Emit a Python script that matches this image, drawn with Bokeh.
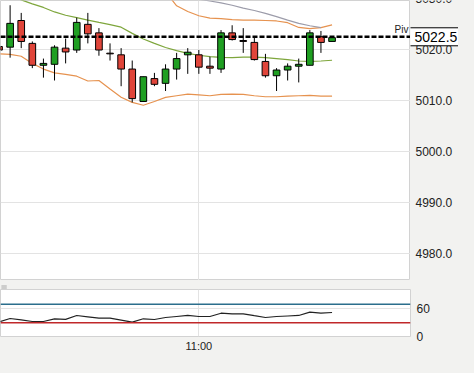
import pandas as pd
from bokeh.plotting import figure
from bokeh.layouts import column, row
from bokeh.models import (ColumnDataSource, FixedTicker, DatetimeTickFormatter,
                          Span, Label, Range1d, GlobalInlineStyleSheet)
from bokeh.core.properties import value
from bokeh.embed import file_html
from bokeh.resources import INLINE

# ---------------- data ----------------
times = pd.date_range("2024-03-14 10:42", periods=31, freq="1min")

opens = [5020.60, 5020.47, 5025.69, 5021.21, 5016.92, 5017.11, 5020.28, 5019.91,
         5024.94, 5023.27, 5019.29, 5018.97, 5016.18, 5009.83, 5014.31, 5013.38,
         5016.18, 5018.97, 5018.97, 5016.74, 5016.18, 5023.27, 5021.77, 5021.40,
         5017.67, 5014.87, 5015.99, 5016.74, 5016.92, 5022.52, 5021.59]
highs = [5021.00, 5028.68, 5027.18, 5021.59, 5018.23, 5020.84, 5022.15, 5026.25,
         5027.18, 5024.20, 5021.21, 5020.28, 5017.85, 5014.68, 5015.43, 5017.11,
         5019.35, 5020.28, 5019.91, 5018.60, 5023.82, 5024.76, 5024.20, 5022.33,
         5019.16, 5016.36, 5017.29, 5018.23, 5023.82, 5023.64, 5022.43]
lows = [5019.50, 5018.41, 5020.28, 5016.36, 5014.50, 5013.94, 5017.29, 5019.35,
        5021.21, 5018.79, 5017.85, 5012.82, 5009.65, 5009.74, 5012.82, 5011.88,
        5014.12, 5015.24, 5015.24, 5015.24, 5015.43, 5021.77, 5019.35, 5017.85,
        5014.50, 5011.88, 5013.94, 5013.56, 5016.92, 5019.35, 5021.59]
closes = [5019.90, 5025.13, 5021.59, 5016.92, 5017.29, 5020.47, 5019.53, 5025.32,
          5023.08, 5019.91, 5019.16, 5016.18, 5010.39, 5014.68, 5013.19, 5016.18,
          5018.23, 5019.48, 5016.55, 5016.36, 5023.27, 5021.96, 5021.59, 5018.04,
          5014.87, 5015.99, 5016.74, 5017.11, 5023.27, 5021.40, 5022.33]

bb_mid = [5031.29, 5030.54, 5029.74, 5028.96, 5028.25, 5027.37, 5026.72, 5026.25,
          5025.78, 5025.32, 5024.89, 5024.38, 5023.17, 5022.07, 5021.21, 5020.41,
          5019.78, 5019.25, 5018.88, 5018.60, 5018.47, 5018.41, 5018.51, 5018.51,
          5018.41, 5018.23, 5018.04, 5017.76, 5017.67, 5017.76, 5017.91]
bb_upper = [5043.42, 5042.01, 5040.79, 5040.63, 5040.32, 5039.31, 5038.29, 5037.72,
            5037.16, 5036.70, 5036.14, 5036.43, 5036.51, 5034.60, 5033.33, 5031.29,
            5028.58, 5027.46, 5026.62, 5026.16, 5026.06, 5025.88, 5025.78, 5025.75,
            5025.69, 5025.60, 5025.26, 5024.33, 5024.10, 5024.29, 5024.85]
bb_lower = [5019.16, 5019.07, 5018.69, 5017.29, 5016.18, 5015.43, 5015.15, 5014.78,
            5013.84, 5013.94, 5012.26, 5010.67, 5009.65, 5009.09, 5009.83, 5010.63,
            5010.95, 5011.27, 5011.14, 5010.95, 5011.23, 5011.27, 5011.23, 5010.95,
            5010.76, 5010.76, 5010.86, 5010.95, 5011.04, 5010.86, 5010.86]

slow_ma_times = times[17:]
slow_ma = [5030.35, 5029.88, 5029.51, 5029.14, 5028.68, 5028.12, 5027.65,
           5027.09, 5026.44, 5025.78, 5025.13, 5024.66, 5024.29]

rsi = [31.5, 39.0, 36.0, 32.5, 32.5, 38.3, 37.0, 45.5, 42.6, 39.6, 39.6, 35.3, 31.0,
       38.3, 36.8, 41.1, 43.3, 45.5, 43.3, 43.3, 50.4, 49.1, 49.1, 45.0, 41.1, 43.3,
       44.4, 45.5, 52.6, 50.4, 51.9]

pivot_level = 5022.5
pivot_name = "Piv"
pivot_box_text = "5022.5"
rsi_high_level = 70
rsi_low_level = 30
price_ticks = [4980, 4990, 5000, 5010, 5020, 5030]
price_tick_labels = ["4980.0", "4990.0", "5000.0", "5010.0", "5020.0", "5030.0"]
rsi_ticks = [0, 60]
time_ticks = ["2024-03-14 11:00"]

# ---------------- styling / layout ----------------
FONT = "Liberation Sans"
BG = "#f2f2f0"
GRID = "#e3e3e3"
UP = "#1f9f22"
DOWN = "#e0453a"
TXT = "#222222"
view_start = pd.Timestamp("2024-03-14 10:42:08")
view_end = pd.Timestamp("2024-03-14 11:19:04")
PLOT_W, AXIS_W = 410, 48
MAIN_H, GAP_H, RSI_H, TIME_H = 280, 9, 47, 21


def ms(ts):
    return pd.Timestamp(ts).value / 1e6


def bare(fig):
    fig.grid.visible = False
    return fig


tick_ms = [ms(t) for t in time_ticks]
x_range = Range1d(ms(view_start), ms(view_end))
price_range = Range1d(4974.76, 5029.61)
rsi_range = Range1d(0, 101.7)

body_top = [max(o, c) for o, c in zip(opens, closes)]
body_bot = [min(o, c) for o, c in zip(opens, closes)]
colors = [UP if c >= o else DOWN for o, c in zip(opens, closes)]
src = ColumnDataSource(dict(t=times, h=highs, l=lows, top=body_top,
                            bot=body_bot, color=colors, mid=bb_mid,
                            up=bb_upper, lo=bb_lower, rsi=rsi))
slow_src = ColumnDataSource(dict(t=slow_ma_times, v=slow_ma))

common = dict(output_backend="svg", toolbar_location=None, min_border=0,
              min_border_left=0, min_border_top=0)

# ---------------- main price panel ----------------
p1 = figure(width=PLOT_W, height=MAIN_H, x_axis_type="datetime",
            x_axis_location=None, y_axis_location=None,
            x_range=x_range, y_range=price_range, min_border_bottom=0,
            min_border_right=0,
            background_fill_color="white", border_fill_color=BG,
            outline_line_color="#d2d2d2", **common)
p1.xgrid.ticker = FixedTicker(ticks=tick_ms)
p1.xgrid.grid_line_color = GRID
p1.ygrid.ticker = FixedTicker(ticks=price_ticks)
p1.ygrid.grid_line_color = GRID

p1.line("t", "lo", source=src, line_color="#e6924f", line_width=1.2)
p1.line("t", "up", source=src, line_color="#e6924f", line_width=1.2)
p1.line("t", "mid", source=src, line_color="#7ea63c", line_width=1.2)
p1.line("t", "v", source=slow_src, line_color="#9c9caa", line_width=1.2)

p1.segment(x0="t", y0="l", x1="t", y1="h", source=src, line_color="black",
           line_width=1)
p1.vbar(x="t", width=36000, top="top", bottom="bot", source=src,
        fill_color="color", line_color="black", line_width=1)

p1.add_layout(Span(location=pivot_level, dimension="width", line_color="black",
                   line_width=2.5, line_dash="5 2"))
p1.add_layout(Label(x=ms(view_end), y=pivot_level, x_offset=-2, y_offset=7,
                    text=pivot_name, text_align="right",
                    text_baseline="alphabetic", text_font=FONT,
                    text_font_size="10px", text_color=TXT))

# price axis strip (right of the main panel)
a1 = bare(figure(width=AXIS_W, height=MAIN_H, x_range=Range1d(0, AXIS_W),
                 y_range=price_range, x_axis_location=None,
                 y_axis_location=None, min_border_bottom=0, min_border_right=0,
                 background_fill_color=BG, border_fill_color=BG,
                 outline_line_color=None, **common))
a1.text(x=[5] * len(price_ticks), y=price_ticks, text=price_tick_labels,
        text_baseline="middle", text_align="left", text_font=value(FONT),
        text_font_size=value("12px"), text_color=TXT)
a1.rect(x=[26], y=[pivot_level], width=[54], height=[18], width_units="screen",
        height_units="screen", fill_color="white", line_color="black",
        line_width=1)
a1.text(x=[4], y=[pivot_level], text=[pivot_box_text], text_baseline="middle",
        text_align="left", text_font=value(FONT),
        text_font_size=value("14px"), text_color="black")

# ---------------- gap strip with the panel grip (three short lines) ----------
gap = bare(figure(width=PLOT_W + AXIS_W, height=GAP_H,
                  x_range=Range1d(0, PLOT_W + AXIS_W), y_range=Range1d(0, GAP_H),
                  x_axis_location=None, y_axis_location=None,
                  min_border_bottom=0, min_border_right=0,
                  background_fill_color=BG,
                  border_fill_color=BG, outline_line_color=None, **common))
gap.segment(x0=[1, 1, 1], y0=[2.5, 4.5, 6.5], x1=[7, 7, 7], y1=[2.5, 4.5, 6.5],
            line_color="#a8a8a8", line_width=1)

# ---------------- RSI panel ----------------
p2 = figure(width=PLOT_W + AXIS_W, height=RSI_H + TIME_H, x_axis_type="datetime",
            y_axis_location="right", x_range=x_range, y_range=rsi_range,
            min_border_bottom=TIME_H, min_border_right=AXIS_W,
            background_fill_color="white",
            border_fill_color=BG, outline_line_color="#d2d2d2", **common)
p2.xgrid.ticker = FixedTicker(ticks=tick_ms)
p2.xgrid.grid_line_color = GRID
p2.ygrid.ticker = FixedTicker(ticks=rsi_ticks)
p2.ygrid.grid_line_color = GRID

axx = p2.xaxis[0]
axx.ticker = FixedTicker(ticks=tick_ms)
fmt = "%H:%M"
axx.formatter = DatetimeTickFormatter(microseconds=fmt, milliseconds=fmt,
                                      seconds=fmt, minsec=fmt, minutes=fmt,
                                      hourmin=fmt, hours=fmt, days=fmt,
                                      months=fmt, years=fmt)
axx.axis_line_color = None
axx.major_tick_line_color = None
axx.minor_tick_line_color = None
axx.major_tick_in = 0
axx.major_tick_out = 0
axx.major_label_standoff = 3
axx.major_label_text_font = FONT
axx.major_label_text_font_size = "11px"
axx.major_label_text_color = TXT

ay = p2.yaxis[0]
ay.ticker = FixedTicker(ticks=rsi_ticks)
ay.axis_line_color = None
ay.major_tick_line_color = None
ay.minor_tick_line_color = None
ay.major_tick_in = 0
ay.major_tick_out = 0
ay.major_label_standoff = 6
ay.major_label_text_font = FONT
ay.major_label_text_font_size = "12px"
ay.major_label_text_color = TXT

p2.add_layout(Span(location=rsi_high_level, dimension="width",
                   line_color="#2b6e8c", line_width=1.5))
p2.add_layout(Span(location=rsi_low_level, dimension="width",
                   line_color="#c0282a", line_width=1.5))
p2.line("t", "rsi", source=src, line_color=TXT, line_width=1.2)

page_bg = GlobalInlineStyleSheet(css="html, body { background-color: %s; }" % BG)
layout = column(row(p1, a1, spacing=0), gap, p2, spacing=0,
                styles={"background-color": BG}, stylesheets=[page_bg])

open("out.html", "w").write(file_html(layout, INLINE))
